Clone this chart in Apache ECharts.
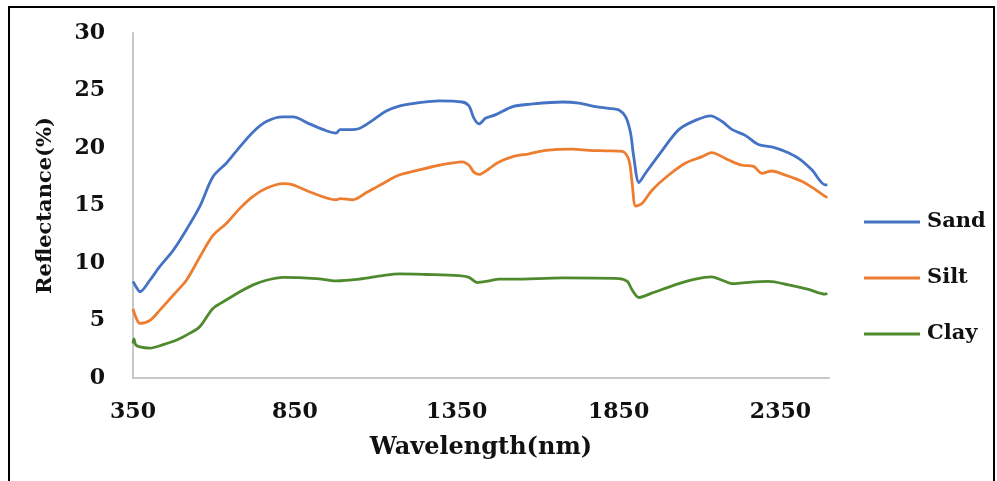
<!DOCTYPE html>
<html>
<head>
<meta charset="utf-8">
<script src="https://cdn.jsdelivr.net/npm/echarts@6/dist/echarts.min.js"></script>
<style>
html,body{margin:0;padding:0;background:#fff;}
#chart{width:997px;height:481px;}
</style>
</head>
<body>
<div id="chart"></div>
<script>
const seriesNames = ['Sand', 'Silt', 'Clay'];
const xTicks = [350, 850, 1350, 1850, 2350];
const yTicks = [0, 5, 10, 15, 20, 25, 30];

const sandWl  = [350, 360, 372, 402, 433, 474, 515, 556, 597, 639, 680, 721, 762, 813, 844, 895, 947, 977, 990, 1018, 1049, 1090, 1131, 1172, 1224, 1296, 1367, 1388, 1403, 1419, 1440, 1471, 1523, 1574, 1677, 1728, 1779, 1820, 1851, 1872, 1887, 1897, 1913, 1933, 1985, 2036, 2087, 2134, 2170, 2201, 2241, 2282, 2323, 2365, 2406, 2447, 2488, 2495];
const sandVal = [8.4, 7.9, 7.5, 8.5, 9.7, 11.1, 12.9, 14.9, 17.5, 18.7, 20.1, 21.4, 22.3, 22.7, 22.7, 22.1, 21.5, 21.3, 21.6, 21.6, 21.7, 22.4, 23.2, 23.65, 23.9, 24.1, 24.0, 23.65, 22.6, 22.1, 22.6, 22.9, 23.6, 23.8, 24.0, 23.9, 23.6, 23.45, 23.3, 22.7, 21.3, 19.2, 17.0, 17.8, 19.8, 21.6, 22.4, 22.8, 22.3, 21.6, 21.1, 20.3, 20.1, 19.7, 19.1, 18.1, 16.8, 16.8];

const siltWl  = [350, 360, 371, 402, 433, 474, 515, 556, 597, 639, 680, 721, 762, 813, 844, 895, 977, 990, 1029, 1070, 1121, 1172, 1234, 1296, 1367, 1388, 1403, 1419, 1450, 1475, 1523, 1574, 1625, 1708, 1759, 1810, 1862, 1882, 1892, 1903, 1923, 1954, 2005, 2057, 2108, 2137, 2190, 2231, 2267, 2293, 2323, 2365, 2416, 2457, 2488, 2495];
const siltVal = [6.0, 5.2, 4.75, 5.0, 5.9, 7.2, 8.5, 10.5, 12.4, 13.45, 14.75, 15.8, 16.5, 16.9, 16.8, 16.2, 15.5, 15.6, 15.5, 16.1, 16.9, 17.65, 18.1, 18.5, 18.8, 18.5, 17.9, 17.7, 18.2, 18.7, 19.25, 19.5, 19.8, 19.9, 19.8, 19.75, 19.7, 18.95, 16.9, 14.95, 15.2, 16.35, 17.65, 18.7, 19.25, 19.6, 18.95, 18.5, 18.4, 17.8, 18.0, 17.65, 17.1, 16.4, 15.8, 15.7];

const clayWl  = [350, 353, 358, 371, 402, 443, 485, 526, 556, 597, 639, 680, 721, 762, 813, 916, 977, 1049, 1121, 1172, 1255, 1357, 1388, 1414, 1450, 1481, 1523, 1677, 1851, 1877, 1892, 1913, 1954, 2036, 2087, 2137, 2170, 2201, 2241, 2313, 2375, 2437, 2488, 2495];
const clayVal = [3.0, 3.4, 2.9, 2.7, 2.6, 2.9, 3.3, 3.9, 4.45, 6.05, 6.8, 7.5, 8.1, 8.5, 8.75, 8.65, 8.45, 8.6, 8.9, 9.05, 9.0, 8.9, 8.75, 8.3, 8.45, 8.6, 8.6, 8.7, 8.65, 8.4, 7.65, 7.0, 7.4, 8.2, 8.6, 8.8, 8.5, 8.2, 8.3, 8.4, 8.1, 7.7, 7.3, 7.35];

const colors = ['#4472C4', '#ED7D31', '#4E8A2E'];
const FONT = 'DejaVu Serif';

function pairs(xs, ys) { return xs.map((x, i) => [x, ys[i]]); }
const allData = [pairs(sandWl, sandVal), pairs(siltWl, siltVal), pairs(clayWl, clayVal)];

const chart = echarts.init(document.getElementById('chart'));
chart.setOption({
  animation: false,
  backgroundColor: '#fff',
  color: colors,
  graphic: [{
    type: 'rect',
    shape: { x: 9, y: 7, width: 985, height: 490 },
    style: { fill: 'none', stroke: '#000', lineWidth: 2 },
    silent: true
  }],
  grid: { left: 133, top: 33, right: 168, bottom: 103 },
  legend: {
    orient: 'vertical',
    left: 859,
    top: 206,
    itemWidth: 56,
    itemHeight: 3,
    itemGap: 34,
    icon: 'rect',
    data: seriesNames,
    textStyle: { fontFamily: FONT, fontWeight: 'bold', fontSize: 21, color: '#111', lineHeight: 22, padding: [0, 0, 0, 2] }
  },
  xAxis: {
    type: 'value',
    min: 350,
    max: 2500,
    name: 'Wavelength(nm)',
    nameLocation: 'middle',
    nameGap: 58,
    nameTextStyle: { fontFamily: FONT, fontWeight: 'bold', fontSize: 24, color: '#111' },
    axisLine: { show: true, lineStyle: { color: '#c8c8c8', width: 2 } },
    axisTick: { show: false },
    splitLine: { show: false },
    axisLabel: {
      customValues: xTicks,
      formatter: v => String(v),
      margin: 23,
      fontFamily: FONT, fontWeight: 'bold', fontSize: 22, color: '#111'
    }
  },
  yAxis: {
    type: 'value',
    min: 0,
    max: 30,
    interval: 5,
    name: 'Reflectance(%)',
    nameLocation: 'middle',
    nameGap: 77,
    nameTextStyle: { fontFamily: FONT, fontWeight: 'bold', fontSize: 21, color: '#111' },
    axisLine: { show: true, lineStyle: { color: '#c8c8c8', width: 2 } },
    axisTick: { show: false },
    splitLine: { show: false },
    axisLabel: {
      customValues: yTicks,
      formatter: v => String(v),
      margin: 28,
      fontFamily: FONT, fontWeight: 'bold', fontSize: 22, color: '#111'
    }
  },
  series: seriesNames.map((n, i) => ({
    name: n,
    type: 'line',
    data: allData[i],
    showSymbol: false,
    symbol: 'none',
    smooth: 0.3,
    lineStyle: { width: 2.8, color: colors[i] },
    itemStyle: { color: colors[i] }
  }))
});
</script>
</body>
</html>
